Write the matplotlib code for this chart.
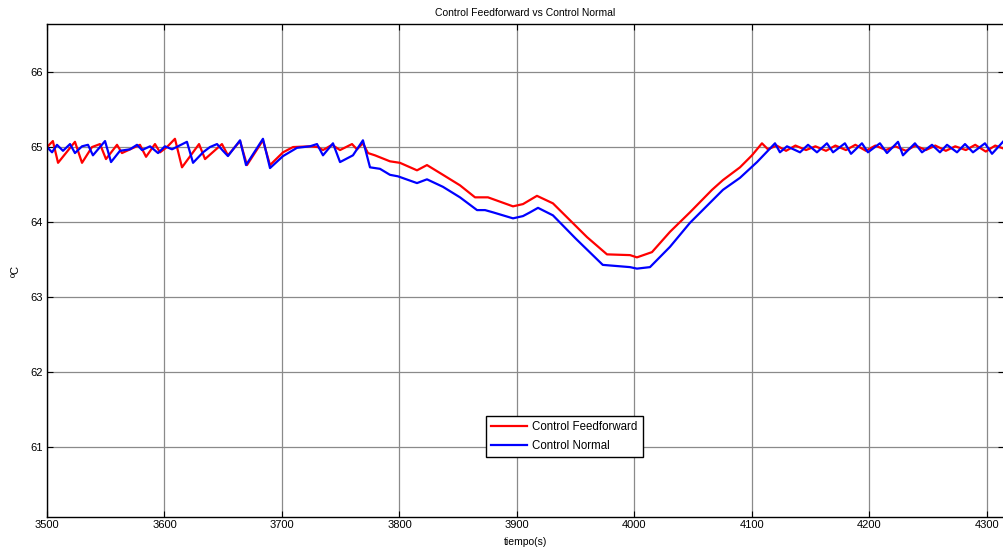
import matplotlib
matplotlib.use("Agg")
import matplotlib.pyplot as plt

plt.rcParams['font.family'] = ['Liberation Sans', 'DejaVu Sans']

# Control Feedforward (red)
ff_t = [3500, 3505, 3509.4, 3523.8, 3529.8, 3538.3, 3545.1, 3550.2, 3559.6, 3563.8,
        3579.1, 3584.3, 3591.9, 3596.2, 3602.1, 3608.9, 3614.9, 3629.4, 3634.5, 3648.9,
        3654.0, 3664.3, 3670.2, 3683.8, 3689.8, 3700.9, 3709.4, 3723.8, 3730.6, 3734.9,
        3742.6, 3749.4, 3759.6, 3763.8, 3768.9, 3773.2, 3779.1, 3791.9, 3800.4, 3814.9,
        3823.4, 3837.0, 3851.5, 3864.3, 3875.3, 3896.6, 3905.1, 3917.0, 3930.6, 3959.6,
        3976.6, 3996.2, 4002.1, 4014.9, 4030.2, 4047.2, 4066.0, 4075.3, 4089.8, 4100.0,
        4108.5, 4113.6, 4121, 4129, 4137, 4146, 4154, 4163, 4171, 4180,
        4188, 4197, 4205, 4214, 4222, 4231, 4239, 4248, 4256, 4265,
        4273, 4282, 4290, 4299, 4307, 4316]
ff_temp = [65.0, 65.08, 64.79, 65.07, 64.79, 65.0, 65.04, 64.84, 65.03, 64.92,
           65.03, 64.87, 65.04, 64.93, 65.0, 65.11, 64.73, 65.04, 64.84, 65.04,
           64.89, 65.08, 64.76, 65.09, 64.76, 64.93, 65.0, 65.01, 65.0, 64.96,
           65.03, 64.96, 65.04, 64.97, 65.05, 64.92, 64.89, 64.81, 64.79, 64.69,
           64.76, 64.63, 64.49, 64.33, 64.33, 64.21, 64.24, 64.35, 64.25, 63.80,
           63.57, 63.56, 63.53, 63.60, 63.87, 64.13, 64.43, 64.56, 64.73, 64.89,
           65.05, 64.97, 65.02, 64.95, 65.02, 64.96, 65.01, 64.95, 65.02, 64.96,
           65.03, 64.95, 65.02, 64.96, 65.01, 64.95, 65.02, 64.96, 65.02, 64.95,
           65.01, 64.96, 65.03, 64.94, 65.02, 64.97]

# Control Normal (blue)
cn_t = [3500, 3504.3, 3508.5, 3513.6, 3519.6, 3523.8, 3529.8, 3534.9, 3539.1, 3549.4,
        3554.5, 3562.1, 3570.6, 3576.6, 3580.9, 3587.7, 3594.5, 3600.4, 3606.4, 3619.1,
        3624.3, 3632.8, 3638.7, 3644.7, 3649.8, 3654.0, 3664.3, 3669.4, 3683.8, 3689.8,
        3700.9, 3712.8, 3723.8, 3729.8, 3734.9, 3743.4, 3749.4, 3760.4, 3768.9, 3774.9,
        3783.4, 3791.9, 3798.7, 3814.9, 3823.4, 3837.0, 3851.5, 3866.0, 3872.8, 3879.6,
        3896.6, 3905.1, 3911.1, 3917.9, 3930.6, 3950.0, 3973.0, 3996.2, 4002.1, 4013.2,
        4030.2, 4047.2, 4075.3, 4089.8, 4104.3, 4119.6, 4123.8, 4129.8, 4140.9, 4147.7,
        4155.3, 4163.8, 4169.0, 4179.1, 4184.3, 4193.6, 4198.7, 4208.9, 4214.9, 4224.3,
        4228.5, 4238.7, 4244.7, 4253.2, 4260.0, 4266.0, 4274.5, 4281.3, 4288.1, 4298.3,
        4304.3, 4313.6]
cn_temp = [65.0, 64.93, 65.03, 64.95, 65.04, 64.92, 65.01, 65.03, 64.89, 65.08,
           64.80, 64.95, 64.97, 65.03, 64.96, 65.01, 64.92, 65.01, 64.97, 65.07,
           64.79, 64.93, 65.0, 65.04, 64.95, 64.88, 65.09, 64.76, 65.11, 64.72,
           64.88, 64.99, 65.01, 65.04, 64.89, 65.05, 64.80, 64.89, 65.09, 64.73,
           64.71, 64.63, 64.61, 64.52, 64.57, 64.47, 64.33, 64.16, 64.16, 64.13,
           64.05, 64.08, 64.13, 64.19, 64.09, 63.78, 63.43, 63.40, 63.38, 63.40,
           63.67, 63.99, 64.43, 64.59, 64.80, 65.05, 64.93, 65.01, 64.93, 65.03,
           64.93, 65.05, 64.93, 65.05, 64.91, 65.05, 64.93, 65.05, 64.92, 65.07,
           64.89, 65.05, 64.93, 65.03, 64.93, 65.03, 64.93, 65.04, 64.93, 65.05,
           64.91, 65.07]

fig = plt.figure(figsize=(10.04, 5.49), dpi=100)
ax = fig.add_axes([47 / 1004, 1 - 517 / 549, 1 - 47 / 1004, 493 / 549])

ax.plot(ff_t, ff_temp, color='#ff0000', linewidth=1.6, label='Control Feedforward')
ax.plot(cn_t, cn_temp, color='#0000ff', linewidth=1.6, label='Control Normal')

ax.set_xlim(3500, 4314.5)
ax.set_ylim(60.07, 66.64)
ax.set_xticks([3500, 3600, 3700, 3800, 3900, 4000, 4100, 4200, 4300])
ax.set_yticks([61, 62, 63, 64, 65, 66])
ax.grid(True, color='#8a8a8a', linewidth=0.9)
ax.set_axisbelow(True)

ax.tick_params(direction='in', top=True, right=True, labelsize=8, length=4,
               width=0.8)
ax.tick_params(axis='x', pad=2)
ax.tick_params(axis='y', pad=3)
ax.spines['right'].set_visible(False)
for s in ['left', 'top', 'bottom']:
    ax.spines[s].set_linewidth(1.0)

ax.set_title('Control Feedforward vs Control Normal', fontsize=7.5, pad=6)
ax.set_xlabel('tiempo(s)', fontsize=7.5, labelpad=5)
ax.set_ylabel('ºC', fontsize=8, labelpad=7)

leg = ax.legend(loc='lower left', bbox_to_anchor=(0.4587, 0.1217), fontsize=8.3,
                fancybox=False, edgecolor='black', framealpha=1,
                handlelength=3.1, handletextpad=0.45, borderpad=0.45,
                labelspacing=0.55, borderaxespad=0)
leg.get_frame().set_linewidth(1.0)

fig.savefig('out.png', dpi=100)
